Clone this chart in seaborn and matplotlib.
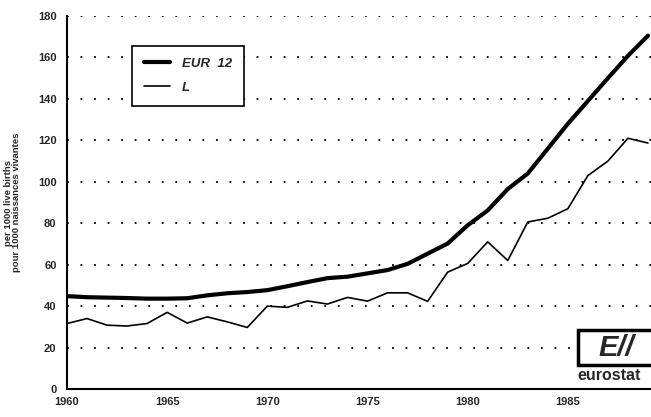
import matplotlib
matplotlib.use('Agg')
import matplotlib.pyplot as plt
import seaborn as sns
import pandas as pd
from matplotlib.patches import Rectangle

years = list(range(1960, 1990))
eur12 = [44.8, 44.3, 44.1, 43.9, 43.6, 43.6, 43.8, 45.2, 46.2, 46.8,
         47.7, 49.6, 51.6, 53.5, 54.2, 55.8, 57.4, 60.4, 65.3, 70.2,
         79.0, 86.2, 96.5, 104.0, 116.0, 128.0, 139.0, 150.0, 160.8, 170.5]
lux = [31.6, 34.0, 30.8, 30.4, 31.6, 37.0, 31.8, 34.8, 32.4, 29.7,
       40.0, 39.4, 42.5, 41.0, 44.2, 42.4, 46.4, 46.4, 42.3, 56.4,
       60.6, 71.0, 62.0, 80.6, 82.4, 87.0, 103.0, 110.0, 121.0, 118.7]
series_names = ['EUR 12', 'L']
ylabel = 'per 1000 live births\npour 1000 naissances vivantes'

df = pd.DataFrame({'year': years * 2,
                   'value': eur12 + lux,
                   'series': [series_names[0]] * len(years) + [series_names[1]] * len(years)})

sns.set_style('white')
plt.rcParams['font.family'] = ['Liberation Sans', 'DejaVu Sans']

fig = plt.figure(figsize=(6.51, 4.17), dpi=100)
ax = fig.add_axes([67 / 651, 28 / 417, 584 / 651, 373 / 417])

sns.lineplot(data=df[df['series'] == 'EUR 12'], x='year', y='value', color='black',
             linewidth=3.0, ax=ax, label='EUR  12')
sns.lineplot(data=df[df['series'] == 'L'], x='year', y='value', color='black',
             linewidth=1.2, ax=ax, label='L')

ax.set_xlim(1960, 1989.15)
ax.set_ylim(0, 180)
ax.set_xticks(range(1960, 1990, 5))
ax.set_xticks(years, minor=True)
ax.set_yticks(range(0, 181, 20))
ax.tick_params(axis='both', which='both', direction='inout', length=7, width=1.3,
               color='black', labelsize=8)
for lab in ax.get_xticklabels() + ax.get_yticklabels():
    lab.set_fontweight('bold')
ax.tick_params(axis='x', pad=2)
ax.tick_params(axis='y', pad=4)

ax.yaxis.grid(True, color='black', linestyle=(0, (1, 6.5)), linewidth=1.3)
ax.xaxis.grid(False)
for s in ['top', 'right']:
    ax.spines[s].set_visible(False)
for s in ['left', 'bottom']:
    ax.spines[s].set_color('black')
    ax.spines[s].set_linewidth(1.5)

ax.set_xlabel('')
ax.set_ylabel(ylabel, fontsize=6.8, fontweight='bold', linespacing=0.85)
ax.yaxis.set_label_coords(-0.078, 0.5)

leg = ax.legend(loc='upper left', bbox_to_anchor=(0.111, 0.92), borderaxespad=0,
                frameon=True, fancybox=False, edgecolor='black', handlelength=2.0,
                labelspacing=0.9, borderpad=0.9, handletextpad=0.9,
                prop={'weight': 'bold', 'style': 'italic', 'size': 9.5})
leg.get_frame().set_linewidth(1.2)
leg.get_frame().set_alpha(1)

# eurostat logo
fig.patches.append(Rectangle((578 / 651, (417 - 365) / 417), 75 / 651, 35 / 417,
                             transform=fig.transFigure, facecolor='white',
                             edgecolor='black', linewidth=2.5, zorder=5))
fig.text(616 / 651, (417 - 348) / 417, 'E//', fontsize=21, fontweight='bold',
         ha='center', va='center', zorder=6, style='italic')
fig.text(577 / 651, (417 - 375) / 417, 'eurostat', fontsize=11.5, fontweight='bold',
         ha='left', va='center', zorder=6)

fig.savefig('out.png', dpi=100)
